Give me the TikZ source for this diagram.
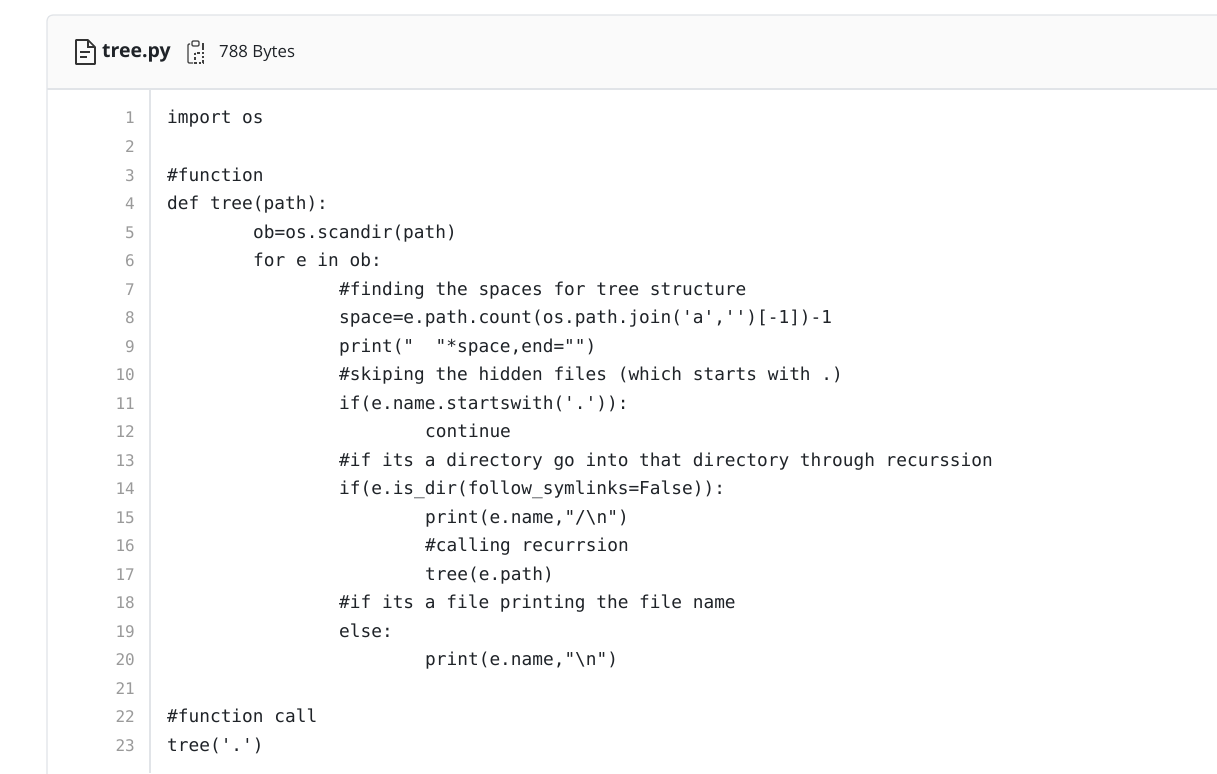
\documentclass[tikz,border=0pt]{standalone}
\usepackage{fontspec}
\setmainfont{Open Sans}
\newfontfamily\code{DejaVu Sans Mono}
\definecolor{bord}{HTML}{E1E4E8}
\definecolor{hdr}{HTML}{FAFAFA}
\definecolor{txt}{HTML}{1F2328}
\definecolor{num}{HTML}{9A9A9A}
\newcommand\sq{\char39\relax}
\newcommand\dq{\char34\relax}
\begin{document}
\begin{tikzpicture}[x=1pt,y=-1pt,
  codeln/.style={anchor=base west,inner sep=0pt,font=\code\fontsize{17.8}{20}\selectfont,text=txt},
  numln/.style={anchor=base east,inner sep=0pt,font=\code\fontsize{16}{20}\selectfont,text=num}]
\useasboundingbox (0,0) rectangle (1217,773);
\fill[white] (0,0) rectangle (1217,773);
\fill[hdr,rounded corners=6] (47,15) rectangle (1240,89);
\fill[hdr] (47,60) rectangle (1240,89);
\draw[bord,line width=1.2,rounded corners=6] (47,800) -- (47,15) -- (1240,15);
\draw[bord,line width=1.2] (47,89) -- (1217,89);
\draw[bord,line width=1.2] (150,89) -- (150,773);
% file icon
\draw[black!80,line width=1.7,line join=round] (76,40) -- (88,40) -- (95,47) -- (95,64) -- (76,64) -- cycle;
\draw[black!80,line width=1.7] (88,40) -- (88,47) -- (95,47);
\draw[black!80,line width=1.7] (80,52) -- (90,52) (80,57) -- (87,57);
\node[anchor=base west,inner sep=0pt,font=\bfseries\fontsize{19.5}{22}\selectfont,text=txt] (fname) at (102,58) {tree.py};
% clipboard icon
\draw[black!75,line width=1.4,rounded corners=1] (190,44) -- (188,44) -- (188,63) -- (193,63);
\draw[black!75,line width=1.4,rounded corners=1] (192,41) rectangle (199,46);
\draw[black!75,line width=1.4] (202,44) -- (203,44) -- (203,50);
\draw[black!75,line width=1.4,dash pattern=on 2.5pt off 2pt] (195,53) rectangle (203,63);
\node[anchor=base west,inner sep=0pt,font=\fontsize{16.8}{20}\selectfont,text=txt] (size) at (219,58) {788 Bytes};
% line numbers
\foreach \i in {1,...,23}{
  \node[numln] (n\i) at (135,{124+28.5*(\i-1)}) {\i};
}
\def\L#1#2#3{\node[codeln] (c#1) at ({167+10.75*#2},{124+28.5*(#1-1)}) {#3};}
\L{1}{0}{import os}
\L{3}{0}{\#function}
\L{4}{0}{def tree(path):}
\L{5}{8}{ob=os.scandir(path)}
\L{6}{8}{for e in ob:}
\L{7}{16}{\#finding the spaces for tree structure}
\L{8}{16}{space=e.path.count(os.path.join(\sq a\sq,\sq\sq)[-1])-1}
\L{9}{16}{print(\dq\ \ \dq*space,end=\dq\dq)}
\L{10}{16}{\#skiping the hidden files (which starts with .)}
\L{11}{16}{if(e.name.startswith(\sq.\sq)):}
\L{12}{24}{continue}
\L{13}{16}{\#if its a directory go into that directory through recurssion}
\L{14}{16}{if(e.is\_dir(follow\_symlinks=False)):}
\L{15}{24}{print(e.name,\dq/\textbackslash n\dq)}
\L{16}{24}{\#calling recurrsion}
\L{17}{24}{tree(e.path)}
\L{18}{16}{\#if its a file printing the file name}
\L{19}{16}{else:}
\L{20}{24}{print(e.name,\dq\textbackslash n\dq)}
\L{22}{0}{\#function call}
\L{23}{0}{tree(\sq.\sq)}
\end{tikzpicture}
\end{document}
